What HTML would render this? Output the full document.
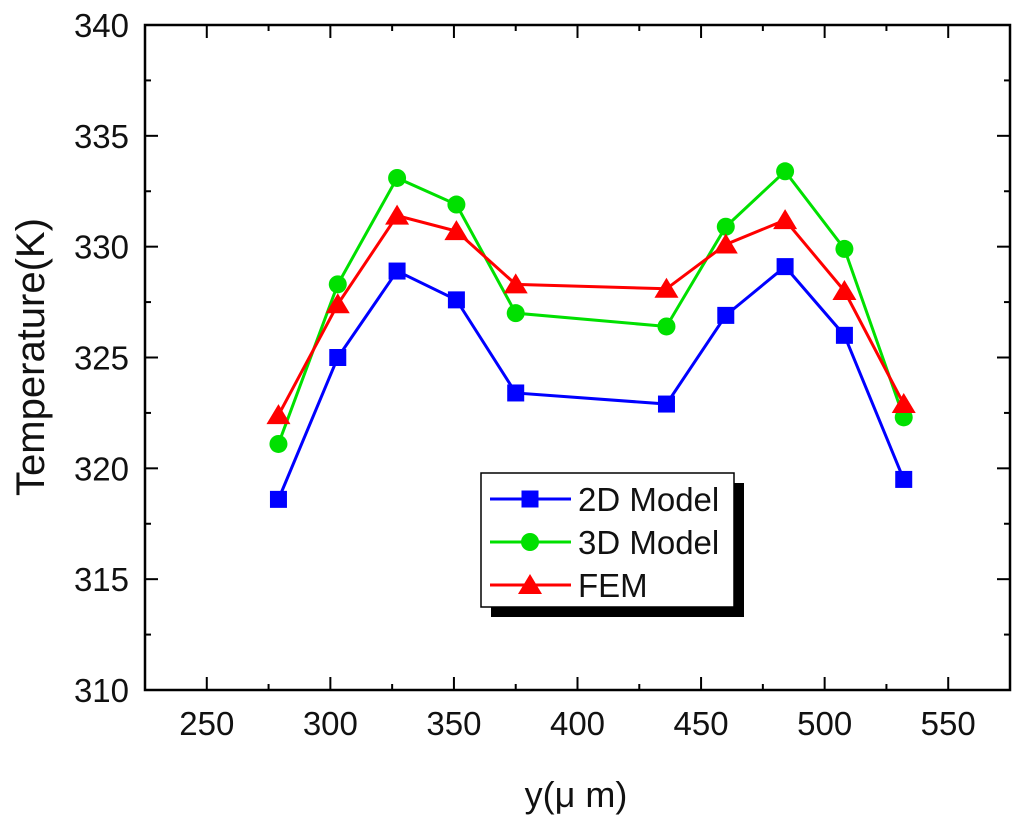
<!DOCTYPE html>
<html><head><meta charset="utf-8"><style>
body{margin:0;background:#fff;}
svg text{font-family:"Liberation Sans",Arial,sans-serif;fill:#111;}
</style></head><body>
<svg width="1024" height="827" xmlns="http://www.w3.org/2000/svg">
<g id="axes"></g>
<g id="series"></g>
<g id="legend"></g>
</svg>
<script>
const xs = [279,303,327,351,375,436,460,484,508,532];
const s2D = [318.6,325.0,328.9,327.6,323.4,322.9,326.9,329.1,326.0,319.5];
const s3D = [321.1,328.3,333.1,331.9,327.0,326.4,330.9,333.4,329.9,322.3];
const sFEM = [322.4,327.4,331.4,330.7,328.3,328.1,330.1,331.2,328.0,322.9];
const xTicks = [250,300,350,400,450,500,550];
const yTicks = [310,315,320,325,330,335,340];
const L=145,R=1010,T=25,B=690,X0=225,X1=575,Y0=310,Y1=340;
const sx=v=>L+(v-X0)/(X1-X0)*(R-L);
const sy=v=>B-(v-Y0)/(Y1-Y0)*(B-T);
const NS="http://www.w3.org/2000/svg";
function mk(tag,attrs,parent){const e=document.createElementNS(NS,tag);for(const k in attrs)e.setAttribute(k,attrs[k]);parent.appendChild(e);return e;}
const ax=document.getElementById('axes');
const frame=mk('rect',{x:L,y:T,width:R-L,height:B-T,fill:'none',stroke:'#000','stroke-width':2.5},ax);


for(let v=X0;v<=X1;v+=25){const x=sx(v);const len=(v%50===0)?13:6;
 mk('line',{x1:x,y1:B,x2:x,y2:B-len,stroke:'#000','stroke-width':2},ax);
 mk('line',{x1:x,y1:T,x2:x,y2:T+len,stroke:'#000','stroke-width':2},ax);}
for(let v=Y0;v<=Y1;v+=2.5){const y=sy(v);const len=(v%5===0)?13:6;
 mk('line',{x1:L,y1:y,x2:L+len,y2:y,stroke:'#000','stroke-width':2},ax);
 mk('line',{x1:R,y1:y,x2:R-len,y2:y,stroke:'#000','stroke-width':2},ax);}
xTicks.forEach(v=>{const t=mk('text',{x:sx(v),y:B+45,'text-anchor':'middle','font-size':33},ax);t.textContent=v;
 
 });
yTicks.forEach(v=>{const t=mk('text',{x:L-16,y:sy(v)+12,'text-anchor':'end','font-size':33},ax);t.textContent=v;
 
 });
const xl=mk('text',{x:576,y:807,'text-anchor':'middle','font-size':36},ax);xl.textContent='y(μ m)';


const yl=mk('text',{x:44,y:357,'text-anchor':'middle','font-size':40,transform:'rotate(-90 44 357)'},ax);yl.textContent='Temperature(K)';


const sg=document.getElementById('series');
function marker(kind,x,y,col,p){
 if(kind==='sq')return mk('rect',{x:x-8.5,y:y-8.5,width:17,height:17,fill:col},p);
 if(kind==='ci')return mk('circle',{cx:x,cy:y,r:9,fill:col},p);
 return mk('polygon',{points:`${x},${y-11} ${x-12},${y+9} ${x+12},${y+9}`,fill:col},p);}
const defs=[[s2D,'#0000ff','sq','2D Model'],[s3D,'#00e000','ci','3D Model'],[sFEM,'#ff0000','tr','FEM']];
defs.forEach(([d,col,k,name])=>{
 const g=mk('g',{},sg);
 
 
 mk('polyline',{points:xs.map((x,i)=>sx(x)+','+sy(d[i])).join(' '),fill:'none',stroke:col,'stroke-width':3},g);
 xs.forEach((x,i)=>{const m=marker(k,sx(x),sy(d[i]),col,g);
  
  });
});
const lg=document.getElementById('legend');


mk('rect',{x:491,y:483,width:253,height:134,fill:'#000'},lg);
mk('rect',{x:481,y:473,width:253,height:134,fill:'#fff',stroke:'#000','stroke-width':1.5},lg);
defs.forEach(([d,col,k,name],i)=>{const y=499+i*43;
 mk('line',{x1:490,y1:y,x2:571,y2:y,stroke:col,'stroke-width':3},lg);
 marker(k,530,y,col,lg);
 const t=mk('text',{x:578,y:y+12,'font-size':33},lg);t.textContent=name;
 
 });
</script>
</body></html>
